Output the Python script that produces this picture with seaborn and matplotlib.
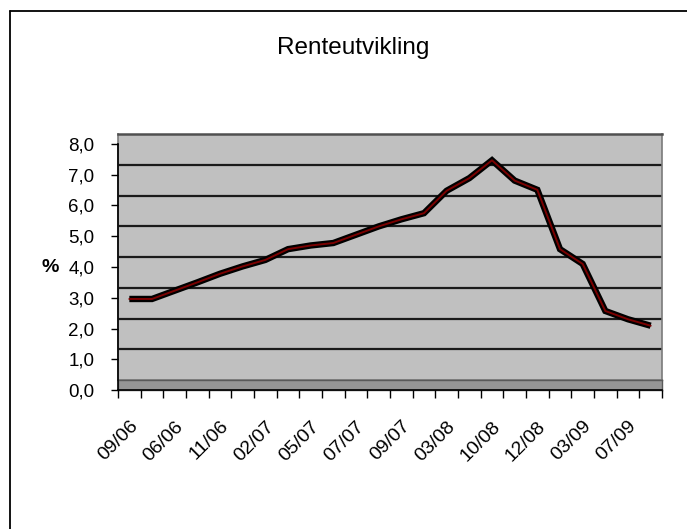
import numpy as np
import pandas as pd
import matplotlib
matplotlib.use("Agg")
import matplotlib.pyplot as plt
from matplotlib.lines import Line2D
import seaborn as sns

# Data
rente = [2.96, 2.96, 3.23, 3.50, 3.78, 4.02, 4.23, 4.58, 4.70, 4.78, 5.05, 5.32,
         5.55, 5.75, 6.48, 6.89, 7.47, 6.81, 6.51, 4.58, 4.10, 2.57, 2.30, 2.09]
tick_labels = ['09/06', '06/06', '11/06', '02/07', '05/07', '07/07',
               '09/07', '03/08', '10/08', '12/08', '03/09', '07/09']
y_ticks = [0, 1, 2, 3, 4, 5, 6, 7, 8]

df = pd.DataFrame({'pos': np.arange(len(rente)), 'rente': rente})

sns.set_style("white")
plt.rcParams['font.family'] = ['Liberation Sans', 'DejaVu Sans']
plt.rcParams['text.color'] = 'black'
plt.rcParams['axes.labelcolor'] = 'black'
plt.rcParams['xtick.color'] = 'black'
plt.rcParams['ytick.color'] = 'black'

W, H = 687, 529
fig = plt.figure(figsize=(W / 100, H / 100), dpi=100)


def box(x0, y0, x1, y1):
    # pixel box -> figure fraction [left, bottom, width, height]
    return [x0 / W, 1 - y1 / H, (x1 - x0) / W, (y1 - y0) / H]


# back wall (Excel 3D look, shifted up a bit)
wall = fig.add_axes(box(118, 134, 662, 380))
wall.set_facecolor('#c0c0c0')
wall.set_xlim(0, 1)
wall.set_ylim(0, 8)
wall.set_yticks(y_ticks[1:-1])
wall.set_xticks([])
wall.yaxis.grid(True, color='#1a1a1a', lw=1.6)
wall.tick_params(length=0, labelleft=False)
for s in wall.spines.values():
    s.set_color('#7a7a7a')
    s.set_linewidth(1.2)
wall.spines['top'].set_color('#505050')
wall.spines['top'].set_linewidth(1.8)

# floor band
floor = fig.add_axes(box(118, 380, 662, 390))
floor.set_facecolor('#969696')
floor.set_xticks([])
floor.set_yticks([])
for s in floor.spines.values():
    s.set_color('#5a5a5a')
    s.set_linewidth(1.0)

# front axes with the line and the ticks
ax = fig.add_axes(box(118, 144, 662, 390))
ax.set_facecolor('none')
sns.lineplot(data=df, x='pos', y='rente', ax=ax, color='black', lw=4.6,
             solid_capstyle='butt', solid_joinstyle='miter')
sns.lineplot(data=df, x='pos', y='rente', ax=ax, color='#7a0000', lw=1.4)

ax.set_xlim(-0.5, len(rente) - 0.5)
ax.set_ylim(0, 8)
ax.set_yticks(y_ticks)
ax.set_yticklabels([f"{v:.1f}".replace('.', ',') for v in y_ticks])
ax.set_xticks(df['pos'][::2])
ax.set_xticklabels(tick_labels, rotation=45, ha='right', rotation_mode='anchor')
ax.set_xticks(np.arange(-0.5, len(rente), 1), minor=True)

ax.tick_params(axis='y', length=5, width=1, direction='out',
               pad=12, labelsize=13.5, left=True)
ax.tick_params(axis='x', which='major', length=0, pad=20, labelsize=14)
ax.tick_params(axis='x', which='minor', length=6, width=1,
               direction='out', bottom=True)

for side in ['top', 'right']:
    ax.spines[side].set_visible(False)
for side in ['left', 'bottom']:
    ax.spines[side].set_color('black')
    ax.spines[side].set_linewidth(1.2)

ax.set_xlabel('')
ax.set_ylabel('%', rotation=0, fontweight='bold', fontsize=14,
              ha='center', va='center')
ax.yaxis.set_label_coords((50 - 118) / 544, 0.5)

fig.text(353 / W, 1 - 54 / H, 'Renteutvikling', ha='center', va='baseline',
         fontsize=17.5)

# outer chart border (top and left only visible)
fig.add_artist(Line2D([9.5 / W, 9.5 / W], [0, 1 - 10.5 / H], color='black', lw=1.3))
fig.add_artist(Line2D([9.5 / W, 1], [1 - 10.5 / H, 1 - 10.5 / H], color='black', lw=1.3))

fig.savefig('out.png', dpi=100)
plt.close(fig)
